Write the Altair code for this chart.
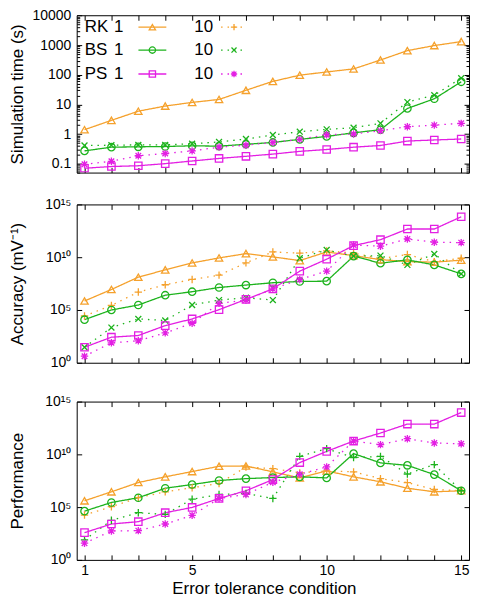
import altair as alt
import pandas as pd

FONT = "Liberation Sans"

x_vals = list(range(1, 16))
series_names = ["RK 1", "RK 10", "BS 1", "BS 10", "PS 1", "PS 10"]
series_colors = ["#F5A12C", "#F5A12C", "#1DB31D", "#1DB31D", "#E31FE3", "#E31FE3"]
legend_methods = ["RK", "", "BS", "", "PS", ""]
legend_tols = ["1", "10", "1", "10", "1", "10"]

# Panel 1: simulation time (s)
time_rk1 = [1.4, 2.9, 5.9, 8.8, 11.7, 14.7, 30, 60, 97, 125, 158, 316, 655, 970, 1320]
time_bs1 = [0.27, 0.36, 0.37, 0.38, 0.40, 0.39, 0.45, 0.52, 0.66, 0.83, 1.1, 1.4, 7.3, 15.5, 58]
time_bs10 = [0.41, 0.42, 0.43, 0.43, 0.47, 0.54, 0.68, 0.93, 1.2, 1.44, 1.63, 2.3, 12, 20.5, 77]
time_ps1 = [0.07, 0.08, 0.085, 0.10, 0.123, 0.15, 0.177, 0.21, 0.26, 0.30, 0.36, 0.41, 0.58, 0.63, 0.68]
time_ps10 = [0.095, 0.12, 0.185, 0.22, 0.27, 0.36, 0.42, 0.52, 0.66, 0.95, 1.0, 1.3, 1.76, 2.0, 2.3]

# Panel 2: accuracy (mV^-1), decimal exponents
acc_rk1 = [5.85, 6.94, 8.11, 8.8, 9.46, 9.93, 10.34, 10.03, 9.68, 10.5, 10.15, 9.77, 9.58, 9.53, 9.72]
acc_rk10 = [4.43, 5.43, 6.7, 7.39, 7.89, 8.3, 9.46, 10.5, 10.38, 10.6, 10.4, 9.85, 10.25, 9.58, 9.9]
acc_bs1 = [4.08, 5.0, 5.47, 6.4, 6.73, 7.13, 7.36, 7.58, 7.7, 7.73, 10.1, 9.43, 9.75, 9.27, 8.42]
acc_bs10 = [1.47, 3.33, 4.15, 4.0, 5.47, 5.94, 6.16, 5.94, 9.9, 10.69, 10.1, 10.15, 9.27, 10.3, 8.42]
acc_ps1 = [1.47, 2.42, 2.58, 3.52, 4.15, 5.03, 6.0, 7.0, 8.68, 9.81, 11.1, 11.66, 12.67, 12.67, 13.83]
acc_ps10 = [0.62, 1.89, 2.08, 2.83, 3.74, 5.62, 5.94, 7.0, 7.89, 8.68, 11.16, 11.04, 11.73, 11.42, 11.38]

# Panel 3: performance, decimal exponents
perf_rk1 = [5.6, 6.45, 7.33, 7.87, 8.37, 8.87, 8.9, 8.34, 7.77, 8.43, 7.87, 7.4, 6.79, 6.45, 6.55]
perf_rk10 = [4.25, 5.04, 5.89, 6.45, 6.83, 7.24, 8.8, 8.65, 8.25, 8.43, 8.34, 7.7, 7.33, 6.67, 6.55]
perf_bs1 = [4.62, 5.44, 5.89, 6.79, 7.14, 7.52, 7.7, 7.8, 7.87, 7.77, 10.07, 9.19, 8.96, 8.08, 6.55]
perf_bs10 = [1.89, 3.75, 4.47, 4.31, 5.75, 6.2, 6.3, 5.82, 9.81, 10.54, 9.69, 9.81, 8.14, 9.03, 6.55]
perf_ps1 = [2.58, 3.4, 3.62, 4.47, 4.97, 5.82, 6.55, 7.61, 9.22, 10.28, 11.26, 12.02, 12.87, 12.87, 13.96]
perf_ps10 = [1.58, 2.74, 2.77, 3.4, 4.22, 5.82, 6.2, 7.36, 8.11, 8.81, 11.26, 10.92, 11.48, 11.08, 11.0]

y1_major = [0.1, 1, 10, 100, 1000, 10000]
y23_major = [1, 1e5, 1e10, 1e15]


def to_long(d, exponent=False):
    rows = []
    for name, vals in d.items():
        for xv, v in zip(x_vals, vals):
            rows.append({"x": xv, "value": (10 ** v) if exponent else v, "series": name})
    return pd.DataFrame(rows)


df_time = to_long({"RK 1": time_rk1, "BS 1": time_bs1, "BS 10": time_bs10,
                   "PS 1": time_ps1, "PS 10": time_ps10})
df_acc = to_long({"RK 1": acc_rk1, "RK 10": acc_rk10, "BS 1": acc_bs1, "BS 10": acc_bs10,
                  "PS 1": acc_ps1, "PS 10": acc_ps10}, exponent=True)
df_perf = to_long({"RK 1": perf_rk1, "RK 10": perf_rk10, "BS 1": perf_bs1, "BS 10": perf_bs10,
                   "PS 1": perf_ps1, "PS 10": perf_ps10}, exponent=True)

PLUS = "M-1,0L1,0M0,-1L0,1"
CROSS = "M-0.8,-0.8L0.8,0.8M-0.8,0.8L0.8,-0.8"
STAR = "M-1,0L1,0M0,-1L0,1M-0.75,-0.75L0.75,0.75M-0.75,0.75L0.75,-0.75"
shapes_a = ["triangle-up", PLUS, "circle", CROSS, "square", STAR]
shapes_b = ["triangle-up", PLUS, "circle", PLUS, "square", STAR]

color_scale = alt.Scale(domain=series_names, range=series_colors)
dash_scale = alt.Scale(domain=series_names,
                       range=[[1, 0], [1.5, 5], [1, 0], [1.5, 5], [1, 0], [1.5, 5]])

W = 394
X_DOMAIN = [0.71, 15.29]
SUP_EXPR = ("datum.value < 10 ? '10\u2070' : datum.value < 1e6 ? '10\u2075' : "
            "datum.value < 1e11 ? '10\u00b9\u2070' : '10\u00b9\u2075'")


def tick_axis(orient, values, size):
    return alt.Axis(orient=orient, values=values, labels=False, domain=False, grid=False,
                    ticks=True, tickSize=size, offset=-size, title=None,
                    tickColor="black", tickWidth=1)


def panel(df, height, y_domain, y_major, y_minor, label_expr, label_size, y_title,
          show_x, shape_range, shape_field):
    xs = alt.Scale(domain=X_DOMAIN, nice=False, zero=False)
    ys = alt.Scale(type="log", domain=y_domain, nice=False)
    base = alt.Chart(df)
    if show_x:
        x_axis = alt.Axis(orient="bottom", values=[1, 5, 10, 15], labels=True, ticks=False,
                          tickSize=0, domain=False, grid=False, labelFontSize=14,
                          labelFont=FONT, labelPadding=4, labelColor="black",
                          title="Error tolerance condition", titleFont=FONT,
                          titleFontSize=17, titleFontWeight="normal", titleColor="black",
                          titlePadding=3, titleX=188)
    else:
        x_axis = alt.Axis(orient="bottom", values=[1, 5, 10, 15], labels=False, ticks=False,
                          tickSize=0, domain=False, grid=False, title=None)
    y_axis = alt.Axis(orient="left", values=y_major, labelExpr=label_expr, ticks=False,
                      tickSize=0, domain=False, grid=False, labelFontSize=label_size,
                      labelFont=FONT, labelPadding=6, labelColor="black",
                      title=y_title, titleFont=FONT, titleFontSize=17,
                      titleFontWeight="normal", titleColor="black",
                      titleX=-50, titleY=height / 2)
    color = alt.Color("series:N", scale=color_scale, legend=None)
    lines = base.mark_line(strokeWidth=1.3, clip=True).encode(
        x=alt.X("x:Q", scale=xs, axis=x_axis),
        y=alt.Y("value:Q", scale=ys, axis=y_axis),
        color=color,
        strokeDash=alt.StrokeDash("series:N", scale=dash_scale, legend=None),
    )
    points = base.mark_point(filled=False, size=55, strokeWidth=1.3, opacity=1, clip=True).encode(
        x=alt.X("x:Q", scale=xs, axis=tick_axis("top", x_vals, 5)),
        y=alt.Y("value:Q", scale=ys, axis=tick_axis("right", y_major, 5)),
        color=color,
        shape=alt.Shape(shape_field, scale=alt.Scale(domain=series_names, range=shape_range),
                        legend=None),
    )
    ghost = base.mark_point(opacity=0).encode(
        x=alt.X("x:Q", scale=xs, axis=tick_axis("bottom", x_vals, 5)),
        y=alt.Y("value:Q", scale=ys, axis=tick_axis("left", y_major, 5)),
    )
    layers = [lines, points, ghost]
    if y_minor:
        for side in ["left", "right"]:
            layers.append(base.mark_point(opacity=0).encode(
                x=alt.X("x:Q", scale=xs, axis=None),
                y=alt.Y("value:Q", scale=ys, axis=tick_axis(side, y_minor, 3)),
            ))
    return alt.layer(*layers).resolve_axis(x="independent", y="independent")


H1, H2, H3 = 158, 159, 159

# minor ticks for the time panel (2..9 x 10^k)
y1_minor = [m * 10.0 ** k for k in range(-2, 4) for m in range(2, 10)
            if 0.05 <= m * 10.0 ** k <= 10250]

p1_data = panel(df_time, H1, [0.05, 10250], y1_major, y1_minor,
                "format(datum.value, '~g')", 14, "Simulation time (s)", False, shapes_a,
                "series:N")

# Legend (drawn inside panel 1)
LEG_Y = [12, 35, 59]
LEG_METHOD_X = 8
LEG_TOL_X = [47, 137]
LEG_LINE_X1 = [62, 145]
LEG_LINE_X2 = [90, 171]
LEG_MARK_X = [76, 158]
leg_rows = []
for i, s in enumerate(series_names):
    col, row = i % 2, i // 2
    leg_rows.append({"series": s, "method": legend_methods[i], "tol": legend_tols[i],
                     "ty": LEG_Y[row], "tm": LEG_METHOD_X, "tt": LEG_TOL_X[col],
                     "lx1": LEG_LINE_X1[col], "lx2": LEG_LINE_X2[col], "mx": LEG_MARK_X[col]})
leg_df = pd.DataFrame(leg_rows)
lxs = alt.Scale(domain=[0, W], nice=False, zero=False)
lys = alt.Scale(domain=[0, H1], reverse=True, nice=False, zero=False)
lbase = alt.Chart(leg_df)
leg_method = lbase.mark_text(align="left", baseline="middle", fontSize=17, font=FONT,
                             color="black").encode(
    x=alt.X("tm:Q", scale=lxs, axis=None), y=alt.Y("ty:Q", scale=lys, axis=None),
    text="method:N")
leg_tol = lbase.mark_text(align="right", baseline="middle", fontSize=17, font=FONT,
                          color="black").encode(
    x=alt.X("tt:Q", scale=lxs, axis=None), y=alt.Y("ty:Q", scale=lys, axis=None),
    text="tol:N")
leg_line = lbase.mark_rule(strokeWidth=1.3).encode(
    x=alt.X("lx1:Q", scale=lxs, axis=None), x2="lx2:Q",
    y=alt.Y("ty:Q", scale=lys, axis=None),
    color=alt.Color("series:N", scale=color_scale, legend=None),
    strokeDash=alt.StrokeDash("series:N", scale=dash_scale, legend=None))
leg_mark = lbase.mark_point(filled=False, size=40, strokeWidth=1.3, opacity=1).encode(
    x=alt.X("mx:Q", scale=lxs, axis=None), y=alt.Y("ty:Q", scale=lys, axis=None),
    color=alt.Color("series:N", scale=color_scale, legend=None),
    shape=alt.Shape("series:N", scale=alt.Scale(domain=series_names, range=shapes_a),
                    legend=None))
legend_group = alt.layer(leg_line, leg_mark, leg_method, leg_tol)

p1 = alt.layer(p1_data, legend_group).resolve_scale(
    x="independent", y="independent").properties(width=W, height=H1)

p2 = panel(df_acc, H2, [1, 1e15], y23_major, None, SUP_EXPR, 14,
           "Accuracy (mV\u207b\u00b9)", False, shapes_a, "series:N").properties(width=W, height=H2)
# the performance panel uses "+" for BS 10; a separate field keeps its shape scale apart
df_perf["series_p"] = df_perf["series"]
p3 = panel(df_perf, H3, [1, 1e15], y23_major, None, SUP_EXPR, 14,
           "Performance", True, shapes_b, "series_p:N").properties(width=W, height=H3)

chart = (
    alt.vconcat(p1, p2, p3, spacing=23)
    .resolve_scale(shape="independent")
    .properties(padding={"top": -2, "bottom": 0, "left": 0, "right": 0})
    .configure_view(stroke="black", strokeWidth=1)
    .configure_axis(labelColor="black", titleColor="black")
)

chart.save("out.html", embed_options={"renderer": "svg", "actions": False})
